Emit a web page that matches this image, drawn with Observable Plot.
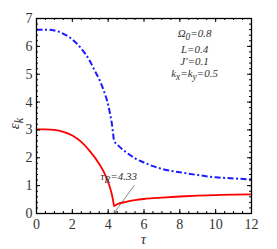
<!DOCTYPE html>
<html><head><meta charset="utf-8">
<script src="https://cdn.jsdelivr.net/npm/d3@7"></script>
<script src="https://cdn.jsdelivr.net/npm/@observablehq/plot@0.6"></script>
<style>body{margin:0;background:#fff}</style>
</head><body><div id="chart"></div>
<script>
const tauBlue = [0,0.5,1,1.5,2,2.5,3,3.25,3.5,3.75,4,4.1,4.2,4.28,4.33,4.5,5,5.5,6,6.5,7,8,9,10,11,12];
const epsBlue = [6.6,6.6,6.57,6.45,6.25,5.92,5.45,5.13,4.82,4.42,3.9,3.6,3.25,2.85,2.6,2.48,2.2,1.98,1.83,1.7,1.6,1.48,1.38,1.3,1.26,1.22];
const tauRed = [0,0.5,1,1.5,2,2.5,3,3.5,3.75,4,4.1,4.2,4.28,4.33,4.5,5,5.5,6,7,8,9,10,11,12];
const epsRed = [3.02,3.02,3.0,2.93,2.8,2.57,2.22,1.78,1.5,1.12,0.93,0.7,0.45,0.27,0.33,0.42,0.48,0.52,0.57,0.61,0.64,0.66,0.68,0.69];
const xTicks = [0,2,4,6,8,10,12];
const yTicks = [0,1,2,3,4,5,6,7];
const xMinor = d3.range(0,12.01,0.5);
const yMinor = d3.range(0,7.01,0.2);
const tauR = 4.33;
const annText = "4.33";

const blue = tauBlue.map((t,i)=>({t, e:epsBlue[i]}));
const red = tauRed.map((t,i)=>({t, e:epsRed[i]}));
const W=277,H=249,mL=36,mR=26,mT=18,mB=36;
const pw=W-mL-mR, ph=H-mT-mB;
const FF = "Liberation Serif, Times New Roman, serif";

const chart = Plot.plot({
  width:W,height:H,marginLeft:mL,marginRight:mR,marginTop:mT,marginBottom:mB,
  x:{domain:[0,12]}, y:{domain:[0,7]},
  style:{fontFamily:FF,fontSize:"14px",color:"#333",background:"#fff"},
  marks:[
    Plot.line(red,{x:"t",y:"e",stroke:"#f00",strokeWidth:1.8,curve:"monotone-x"}),
    Plot.line(blue,{x:"t",y:"e",stroke:"#1a1aff",strokeWidth:2,strokeDasharray:"6,2.5,2,2.5",strokeLinecap:"butt",curve:"monotone-x"}),
    Plot.arrow([{x1:5.45,y1:1.0,x2:tauR,y2:0.02}],{x1:"x1",y1:"y1",x2:"x2",y2:"y2",stroke:"#555",strokeWidth:0.7,headLength:6}),
    Plot.tickX(xTicks,{x:d=>d,insetTop:ph-4,stroke:"#000"}),
    Plot.tickX(xTicks,{x:d=>d,insetBottom:ph-4,stroke:"#000"}),
    Plot.tickX(xMinor,{x:d=>d,insetTop:ph-2,stroke:"#000"}),
    Plot.tickX(xMinor,{x:d=>d,insetBottom:ph-2,stroke:"#000"}),
    Plot.tickY(yTicks,{y:d=>d,insetRight:pw-4,stroke:"#000"}),
    Plot.tickY(yTicks,{y:d=>d,insetLeft:pw-4,stroke:"#000"}),
    Plot.tickY(yMinor,{y:d=>d,insetRight:pw-2,stroke:"#000"}),
    Plot.tickY(yMinor,{y:d=>d,insetLeft:pw-2,stroke:"#000"}),
    Plot.frame({stroke:"#000",strokeWidth:1.3}),
    Plot.axisX(xTicks,{tickSize:0,tickPadding:6,fontSize:14,fill:"#333",fontFamily:FF}),
    Plot.axisY(yTicks,{tickSize:0,tickPadding:4,fontSize:14,fill:"#333",fontFamily:FF})
  ]
});
document.getElementById("chart").appendChild(chart);
const sx = chart.scale("x"), sy = chart.scale("y");
const svg = d3.select(chart);
const g = svg.append("g").attr("font-family",FF).attr("fill","#333");
function addText(x,y,parts,size,italic){
  const t = g.append("text").attr("x",x).attr("y",y).attr("font-size",size).attr("font-style",italic?"italic":"normal");
  parts.forEach(p=>{
    const ts = t.append("tspan").text(p.s);
    if(p.sub){ts.attr("dy",3).attr("font-size",size*0.85);}
    else if(p.back){ts.attr("dy",-3);}
  });
  return t;
}
const lx = sx.apply(8.85);
addText(lx, sy.apply(6.33), [{s:"Ω"},{s:"0",sub:true},{s:"=0.8",back:true}], 11, true);
addText(lx, sy.apply(5.75), [{s:"L=0.4"}], 11, true);
addText(lx, sy.apply(5.33), [{s:"J'=0.1"}], 11, true);
addText(lx, sy.apply(4.87), [{s:"k"},{s:"x",sub:true},{s:"=k",back:true},{s:"y",sub:true},{s:"=0.5",back:true}], 11, true);
addText(sx.apply(4.62), sy.apply(1.19), [{s:"τ"},{s:"R",sub:true},{s:"="+annText,back:true}], 11, true);
g.append("text").attr("x",mL+pw/2).attr("y",244).attr("text-anchor","middle").attr("font-size",15).attr("font-style","italic").text("τ");
const yl = g.append("text").attr("transform",`translate(19,${mT+ph/2+8}) rotate(-90)`).attr("text-anchor","middle").attr("font-size",15).attr("font-style","italic");
yl.append("tspan").text("ε");
yl.append("tspan").attr("dy",4).attr("font-size",12).text("k");
</script></body></html>
